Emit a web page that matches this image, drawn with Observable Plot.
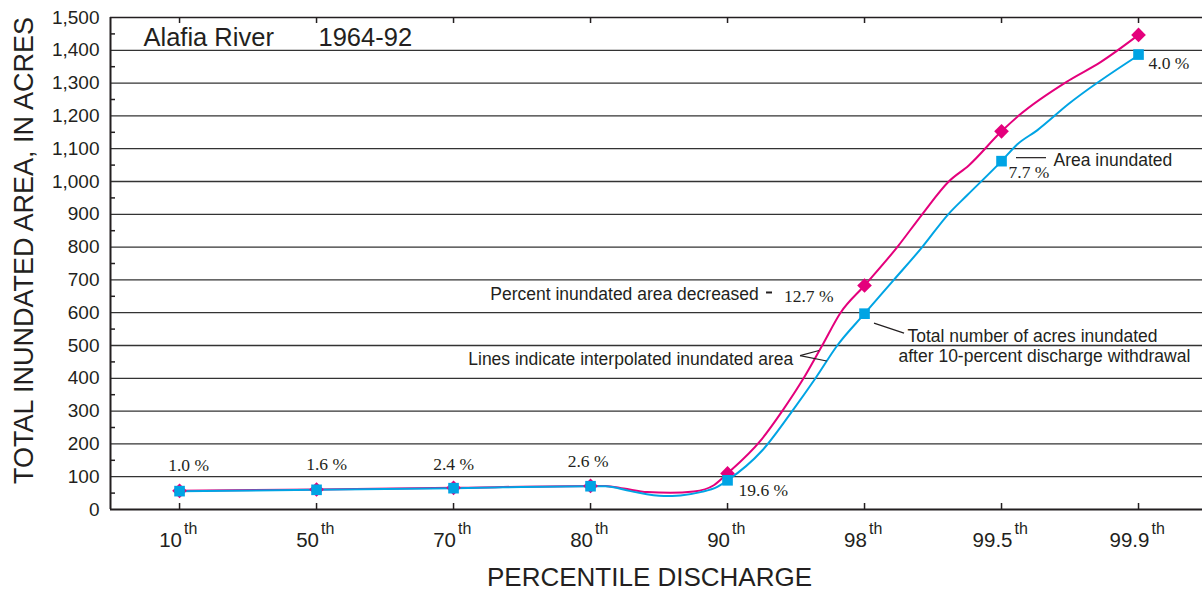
<!DOCTYPE html>
<html>
<head>
<meta charset="utf-8">
<script src="https://cdn.jsdelivr.net/npm/d3@7"></script>
<script src="https://cdn.jsdelivr.net/npm/@observablehq/plot@0.6"></script>
<style>
  html, body { margin: 0; padding: 0; background: #fff; }
  #chart svg { display: block; }
</style>
</head>
<body>
<div id="chart"></div>
<script>
// ---- data ----
const categories = ["10", "50", "70", "80", "90", "98", "99.5", "99.9"];
const areaInundated = [57, 61, 66, 72, 110, 683, 1153, 1447];          // magenta diamonds
const areaAfterWithdrawal = [56, 60, 65, 71, 89, 597, 1062, 1387];     // cyan squares
const percentDecrease = ["1.0 %", "1.6 %", "2.4 %", "2.6 %", "19.6 %", "12.7 %", "7.7 %", "4.0 %"];

// traced vertices of the interpolated lines (position on the category axis, acres)
const areaLinePos = [0, 1, 2, 3, 3.109, 3.243, 3.414, 3.584, 3.754, 3.900, 4, 4.241, 4.399, 4.555, 4.691, 4.825, 5, 5.239, 5.421, 5.615, 5.761, 6, 6.126, 6.491, 6.723, 7];
const areaLineVal = [57, 61, 66, 72, 72, 64, 53, 51, 55, 74, 110, 210, 300, 400, 500, 600, 683, 800, 900, 1000, 1049, 1153, 1201, 1308, 1364, 1447];
const afterLinePos = [0, 1, 2, 3, 3.109, 3.292, 3.535, 3.657, 3.803, 3.925, 4, 4.253, 4.472, 4.642, 4.801, 5, 5.214, 5.421, 5.611, 5.749, 6, 6.114, 6.26, 6.491, 7];
const afterLineVal = [56, 60, 65, 71, 71, 56, 41, 43, 53, 69, 89, 180, 300, 400, 500, 597, 700, 800, 900, 958, 1062, 1113, 1156, 1237, 1385];

const yTicks = d3.range(0, 1501, 100);
const yGrid = d3.range(100, 1500, 100);
const yMinor = d3.range(50, 1500, 100);

const title = "Alafia River";
const period = "1964-92";
const xLabel = "PERCENTILE DISCHARGE";
const yLabel = "TOTAL INUNDATED AREA, IN ACRES";

// ---- styling ----
const W = 1202, H = 591;
const mL = 110, mR = 0, mT = 17, mB = 82;
const frameW = W - mL - mR, frameH = H - mT - mB;
const sans = "'Liberation Sans', Arial, Helvetica, sans-serif";
const serif = "'Liberation Serif', 'Times New Roman', Times, serif";
const ink = "#231f20";
const pink = "#e4007c";
const blue = "#00a4e4";
const xDomain = [-0.504, 7.467];
const idx = categories.map((d, i) => i);
const ns = "http://www.w3.org/2000/svg";

// width of tick numbers, to place the superscript "th"
const ctx = document.createElement("canvas").getContext("2d");
ctx.font = "20.5px 'Liberation Sans'";
const numW = categories.map(c => ctx.measureText(c).width);

// leader lines, drawn relative to a data point through the plot's scales
function leader(i, vals, segs, sw = 1.2) {
  return (index, scales) => {
    const g = document.createElementNS(ns, "g");
    const px = scales.x(i), py = scales.y(vals[i]);
    for (const [x1, y1, x2, y2] of segs) {
      const l = document.createElementNS(ns, "line");
      l.setAttribute("x1", px + x1); l.setAttribute("y1", py + y1);
      l.setAttribute("x2", px + x2); l.setAttribute("y2", py + y2);
      l.setAttribute("stroke", ink); l.setAttribute("stroke-width", sw);
      l.setAttribute("fill", "none");
      g.appendChild(l);
    }
    return g;
  };
}

const note = (text, i, vals, dx, dy, opts = {}) =>
  Plot.text([text], {x: () => i, y: () => vals[i], dx, dy, lineAnchor: "bottom",
    fill: ink, fontFamily: sans, fontSize: 17.5, ...opts});

const pctOffsets = [[9, -20.3], [10, -19], [0, -17.4], [-2.5, -18.4]];

const marks = [
  // grid and frame
  Plot.ruleY(yGrid, {stroke: "#333", strokeWidth: 1.3}),
  Plot.ruleY([1500], {stroke: ink, strokeWidth: 1.6}),
  Plot.ruleY([0], {stroke: ink, strokeWidth: 2.2}),
  Plot.ruleX([xDomain[0]], {stroke: ink, strokeWidth: 2}),
  Plot.ruleY(yMinor, {insetRight: frameW - 5, stroke: ink, strokeWidth: 1.5}),
  Plot.ruleX(idx, {x: d => d, insetTop: frameH - 6, stroke: ink, strokeWidth: 1.5}),
  Plot.ruleX(idx, {x: d => d, insetBottom: frameH - 6, stroke: ink, strokeWidth: 1.5}),
  Plot.axisY({ticks: yTicks, tickFormat: d3.format(","), tickSize: 0, tickPadding: 11,
    fontSize: 19, fill: ink, label: null, anchor: "left"}),

  // x tick labels with superscript "th"
  Plot.text(categories, {x: (d, i) => i, frameAnchor: "bottom", dx: -9, dy: 37.7,
    lineAnchor: "bottom", textAnchor: "middle", fontSize: 20.5, fill: ink}),
  ...categories.map((c, i) => Plot.text(["th"], {x: () => i, frameAnchor: "bottom",
    dx: -9 + numW[i] / 2 + 2, dy: 24, lineAnchor: "bottom", textAnchor: "start",
    fontSize: 16, fill: ink})),

  // axis titles
  Plot.text([xLabel], {frameAnchor: "bottom", dx: -7, dy: 76, lineAnchor: "bottom",
    textAnchor: "middle", fontSize: 26, fill: ink}),
  Plot.text([yLabel], {frameAnchor: "left", dx: -78, dy: -13, rotate: -90,
    lineAnchor: "bottom", textAnchor: "middle", fontSize: 27, fill: ink}),

  // chart title
  Plot.text([title], {frameAnchor: "top-left", dx: 33, dy: 28, lineAnchor: "bottom",
    textAnchor: "start", fontSize: 25.5, fill: ink}),
  Plot.text([period], {frameAnchor: "top-left", dx: 208, dy: 28, lineAnchor: "bottom",
    textAnchor: "start", fontSize: 25.5, fill: ink}),

  // lines and markers
  Plot.line(areaLinePos, {x: d => d, y: (d, i) => areaLineVal[i], stroke: pink,
    strokeWidth: 2, curve: "monotone-x"}),
  Plot.line(afterLinePos, {x: d => d, y: (d, i) => afterLineVal[i], stroke: blue,
    strokeWidth: 2, curve: "monotone-x"}),
  Plot.dot(idx, {x: d => d, y: i => areaInundated[i], symbol: "diamond2", r: 6.6,
    fill: pink, stroke: "none"}),
  Plot.dot(idx, {x: d => d, y: i => areaAfterWithdrawal[i], symbol: "square", r: 6,
    fill: blue, stroke: "none"}),

  // percent labels
  ...pctOffsets.map(([dx, dy], i) => note(percentDecrease[i], i, areaInundated, dx, dy,
    {fontFamily: serif, textAnchor: "middle"})),
  note(percentDecrease[4], 4, areaAfterWithdrawal, 11, 16, {fontFamily: serif, textAnchor: "start"}),
  note(percentDecrease[5], 5, areaInundated, -31, 17, {fontFamily: serif, textAnchor: "end"}),
  note(percentDecrease[6], 6, areaAfterWithdrawal, 7, 16.5, {fontFamily: serif, textAnchor: "start"}),
  note(percentDecrease[7], 7, areaAfterWithdrawal, 10, 14.5, {fontFamily: serif, textAnchor: "start"}),

  // annotations
  note("Area inundated", 6, areaAfterWithdrawal, 52, 4.5, {textAnchor: "start"}),
  leader(6, areaAfterWithdrawal, [[15, -3, 45, -3]]),
  note("Total number of acres inundated", 5, areaAfterWithdrawal, 43, 28, {textAnchor: "start"}),
  note("after 10-percent discharge withdrawal", 5, areaAfterWithdrawal, 34, 48.5, {textAnchor: "start"}),
  leader(5, areaAfterWithdrawal, [[10, 10, 40, 20]]),
  note("Percent inundated area decreased", 5, areaInundated, -105.7, 15, {textAnchor: "end"}),
  leader(5, areaInundated, [[-98, 7.5, -92, 7.5]], 2),
  note("Lines indicate interpolated inundated area", 5, areaAfterWithdrawal, -71.3, 51.8, {textAnchor: "end"}),
  leader(5, areaAfterWithdrawal, [[-64, 42.5, -45, 37.3], [-64, 42.5, -37.3, 47.8]])
];

const chart = Plot.plot({
  width: W, height: H,
  marginLeft: mL, marginRight: mR, marginTop: mT, marginBottom: mB,
  x: {type: "linear", domain: xDomain, axis: null},
  y: {type: "linear", domain: [0, 1500]},
  style: {fontFamily: sans, color: ink, background: "#fff", overflow: "visible"},
  marks
});
document.getElementById("chart").appendChild(chart);
</script>
</body>
</html>
